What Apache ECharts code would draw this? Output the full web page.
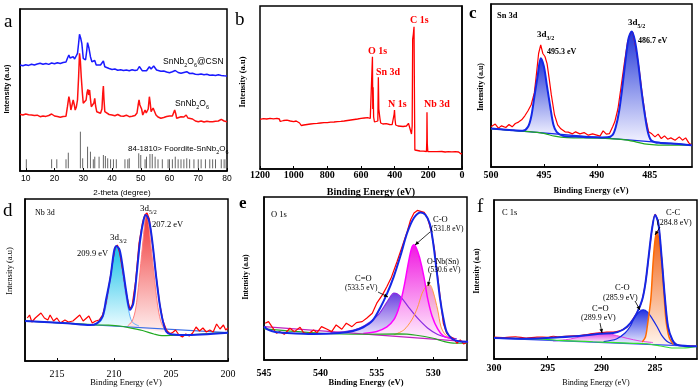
<!DOCTYPE html>
<html><head><meta charset="utf-8">
<script src="https://cdn.jsdelivr.net/npm/echarts@6/dist/echarts.min.js"></script>
<style>html,body{margin:0;padding:0;background:#fff}#c{width:700px;height:392px}</style>
</head><body><div id="c"></div>
<script>
// ---------------- DATA ----------------
// (a) XRD, 2-theta (deg) vs intensity (a.u.)
const xrdComposite = [[8,106],[9,105.3],[10,106.2],[11,105.6],[12,106.8],[13,106],[14,107],[15,107.8],[16,106.8],[17,107.5],[18,106.6],[19,108],[20,107.2],[21,108.3],[22,107.5],[23,108.5],[24,109],[24.5,112.7],[25,116],[25.4,113],[25.8,111],[26.5,114.3],[27,112],[27.5,111],[28,117.7],[28.4,128],[28.7,136.7],[29.1,133],[29.5,127.7],[30,112.7],[30.5,111.5],[30.8,111],[31.2,120],[31.5,128.3],[32,122.7],[32.5,114.3],[33,109.3],[33.5,108],[34,110.5],[34.5,106],[35,104.3],[36,106],[36.6,107],[37,110],[37.5,104.3],[38,103.5],[39,102.5],[40,101.5],[41,102],[42,100.8],[43,101.3],[44,100.5],[45,101],[46,100.3],[47,101.2],[48,100.5],[48.8,101],[49.5,104.5],[50,102.5],[50.5,100.3],[51,101],[52,100.3],[52.6,101.5],[53,104.3],[53.6,102],[54,103],[54.5,105],[55,103],[55.5,101],[56,100.3],[57,99.8],[58,100],[59,99],[60,98.3],[61,99.3],[62,100.5],[63,98.5],[64,97.7],[65,98.5],[66,99.3],[67,97.5],[68,97.8],[69,96.8],[70,96.5],[71,97],[72,96.3],[73,96.8],[74,95.8],[75,96],[76,95.5],[77,96.2],[78,95.6],[79,95.2],[80,95]];
const xrdSnNb2O6 = [[8,56.7],[9,56],[10,57],[11,56.3],[12,56],[13,55.5],[14,55.8],[15,54.3],[16,55],[17,54.6],[18,55.5],[19,57],[20,55],[21,54.5],[22,53.7],[23,54.5],[24,54.8],[24.5,64.3],[25,74.3],[25.3,70],[25.7,61],[26.1,63],[26.5,71],[26.9,66],[27.2,61],[27.6,64],[28,71],[28.4,95],[28.7,117.7],[29,110],[29.3,94.3],[29.7,78],[30,67.7],[30.5,66],[31,71],[31.3,78],[31.6,81.7],[31.9,76],[32.2,81],[32.5,72],[32.8,64.3],[33.1,63],[33.4,64.3],[33.7,68],[34,72.7],[34.3,65],[34.7,59.3],[35.3,58],[36,57.7],[36.5,62],[36.8,78],[37,85],[37.2,72],[37.5,59.3],[38,57.5],[39,56.5],[40,56],[41,55.3],[42,56.5],[43,55],[44,54.8],[45,55.8],[46,54.3],[47,54.8],[48,55.5],[48.7,58],[49.1,66],[49.4,71],[49.7,66],[50,67.7],[50.3,62],[50.7,56],[51.1,58],[51.5,61],[51.9,58],[52.2,56],[52.6,62],[53,74.3],[53.3,68],[53.6,59.3],[54,60],[54.3,63],[54.6,65],[54.9,61],[55.3,56],[56,54],[57,52.7],[58,53.5],[59,54.5],[60,55],[60.5,56],[61,55],[61.4,58],[61.8,61],[62.2,57],[62.5,52.7],[63,53.5],[64,54.3],[65,54],[65.8,56],[66.4,53],[67,51],[68,52],[69,50],[70,49.3],[71,50],[72,49],[73,49.8],[74,49.2],[75,49.3],[76,49.8],[77,50],[78,51.7],[78.5,51],[79,50],[80,49.3]];
const refBase = 2.7;
const refSticks = [[10.2,11.7],[19,11.7],[20.8,11.7],[24,11.7],[24.8,18.3],[29,39.3],[29.8,12.7],[31.5,24.3],[32.5,19.3],[33.5,11.7],[34,14.3],[35.5,14.3],[37,16],[37.7,15],[38.5,12.7],[39.5,11.7],[40.5,11.7],[41.5,11.7],[44.5,11.7],[45.5,11.7],[46,12.7],[49.3,17.7],[50,16],[51.5,11.7],[52,14.3],[53.2,17],[54,17],[55,14.3],[56,11.7],[57.5,11.7],[59.5,11.7],[60,11.7],[61,11.7],[62,14.3],[63,11.7],[64,11.7],[65,11.7],[66,12.7],[67,11.7],[68.5,11.7],[70,11.7],[71,11.7],[72.5,11.7],[74,11.7],[75,11.7],[76,11.7],[78,11.7],[79,11.7],[79.7,11.7]];
const ticksA = [10,20,30,40,50,60,70,80];

// (b) XPS survey
const survey = [[1200,49.7],[1180,50.3],[1160,50],[1140,50.6],[1120,50.2],[1100,50.7],[1085,50],[1080,47.5],[1075,49.5],[1060,48.5],[1040,48.8],[1020,48],[1000,47.3],[985,48],[975,49.5],[965,46],[955,43.5],[940,44],[920,44.5],[900,45],[880,45.3],[860,45.6],[840,46],[820,46.3],[800,46.3],[780,46.8],[760,47],[740,47.3],[720,47.6],[700,48],[680,48.5],[660,49],[640,49.5],[620,50],[600,50.7],[580,51],[560,51.3],[545,50.5],[535,51],[532,112.3],[530,60],[528,81.7],[525,52],[520,47],[510,46.3],[500,48],[497,91.7],[494,60],[490,54],[487,50],[483,46],[470,45],[450,45.3],[430,44.5],[415,44.3],[405,45],[403,55],[401,59],[398,50],[394,44],[380,43],[370,42.3],[350,42.5],[330,43],[318,45.7],[308,44],[300,35],[296,43],[293,130],[289,135],[285,142.3],[282,60],[280,19],[270,18.3],[250,18],[230,17.8],[211,17.5],[209,30],[208,56.7],[206,25],[203,17.3],[180,17.3],[150,17.3],[120,17.5],[100,17],[80,17.3],[60,17.2],[40,17.3],[20,17],[10,16],[5,15],[0,15.5]];
const ticksB = [0,200,400,600,800,1000,1200];

// (c) Sn 3d
const snRaw = [[500,40],[499.6,42.7],[499.3,38.7],[499,41],[498.6,39.3],[498.3,42.3],[498,40],[497.7,43.3],[497.4,44.7],[497.1,47],[496.8,51],[496.5,56],[496.2,62],[495.9,74],[495.7,93],[495.5,113],[495.3,121.7],[495.1,113],[494.9,110],[494.7,103],[494.5,88],[494.3,72],[494,52],[493.7,42],[493.4,38],[493,35],[492.7,34.7],[492.3,33],[492,35],[491.6,33],[491.2,34.3],[490.8,31.7],[490.4,33],[490,31.7],[489.7,30.7],[489.4,36],[489.1,32.7],[488.8,33.3],[488.5,40],[488.3,45],[488,58],[487.7,80],[487.4,103],[487.1,124],[486.8,134],[486.6,134],[486.3,118],[486,98],[485.7,72],[485.4,50],[485.1,35],[484.8,33],[484.5,30],[484.2,32.7],[483.9,28.3],[483.6,31],[483.3,27.7],[483,29],[482.6,26.7],[482.2,30],[481.9,26.7],[481.6,29],[481.3,24],[481,21.7]];
const snFit = [[500,38.3],[498,36.6],[497,36],[496.5,40],[496.2,50],[495.9,70],[495.6,90],[495.3,108.3],[495,100],[494.7,80],[494.4,60],[494.1,42],[493.8,35],[493.2,31],[492,30.3],[491,29.7],[490.3,29.5],[489.5,29.4],[489,29.5],[488.5,32],[488.2,40],[487.9,55],[487.6,78],[487.3,105],[487,128],[486.7,135],[486.4,126],[486.1,105],[485.8,78],[485.5,55],[485.2,36],[484.9,27],[484.5,24.7],[484,24],[483,23.3],[482,22.7],[481,21.7]];
const snPeak32 = [[497,36],[496.5,40],[496.2,50],[495.9,70],[495.6,90],[495.3,108.3],[495,100],[494.7,80],[494.4,60],[494.1,42],[493.8,35],[493.2,31]];
const snPeak52 = [[488.8,29.5],[488.5,32],[488.2,40],[487.9,55],[487.6,78],[487.3,105],[487,128],[486.7,135],[486.4,126],[486.1,105],[485.8,78],[485.5,55],[485.2,36],[484.9,27],[484.5,24.7]];
const snShirley = [[500,38.3],[495.6,34.5],[494.9,33.2],[494,30.7],[492.8,29.3],[490,28.7],[487.5,27.3],[486.4,25.3],[485.5,23],[484.5,22],[483,21.7],[481,21.7]];
const snLinear = [[500,38.3],[481,21.7]];
const ticksC = [500,495,490,485];

// (d) Nb 3d
const nbRaw = [[217.6,43],[217.4,46],[217.2,39],[216.9,43],[216.7,45],[216.4,48],[216.1,43],[215.8,41],[215.6,46],[215.3,40],[215,43],[214.7,38],[214.3,41],[214,39],[213.6,40],[213.3,43],[213,46],[212.7,40],[212.4,43],[212.2,45],[211.9,38],[211.6,40],[211.3,41],[211,46],[210.7,58],[210.4,78],[210.1,100],[209.9,113],[209.7,116],[209.5,108],[209.2,88],[208.9,66],[208.6,52],[208.4,56],[208.1,80],[207.8,118],[207.5,138],[207.3,146],[207.1,148],[206.9,142],[206.6,115],[206.3,85],[206,58],[205.7,40],[205.4,31],[205.1,27],[204.8,29],[204.6,31],[204.3,26],[204,24],[203.7,27],[203.4,25],[203.1,28],[202.8,34],[202.5,30],[202.2,33],[201.9,29],[201.6,31],[201.3,29],[201,37],[200.7,32],[200.4,36],[200.2,31],[200,33]];
const nbFit = [[217.8,40],[214.1,37.7],[212.1,36],[211.5,37.7],[211,44.3],[210.7,61],[210.3,84.3],[210,109.3],[209.8,115],[209.5,111],[209.2,91],[208.9,67.7],[208.6,51],[208.3,57.7],[208,87.7],[207.7,121],[207.4,141],[207.2,146],[206.9,139.3],[206.6,116],[206.3,84.3],[206,57.7],[205.7,39.3],[205.4,29.3],[205,26.7],[203.9,26],[200,28.3]];
const nbPeak32 = [[211.8,36.5],[211.2,39],[210.8,50],[210.5,68],[210.2,92],[210,109],[209.8,115],[209.5,109],[209.3,92],[209,68],[208.7,50],[208.4,39],[207.8,35]];
const nbPeak52 = [[208.8,35],[208.4,40],[208.1,52],[207.8,80],[207.5,115],[207.3,138],[207.2,146],[207,140],[206.8,120],[206.5,88],[206.2,58],[205.9,40],[205.5,31],[205,28]];
const nbShirley = [[217.8,40],[211.5,36.2],[210.5,35.8],[209.5,35],[208.8,33.7],[207.5,30.5],[206.5,27],[205.8,25.3],[205,25.5],[203,26.5],[201,27.8],[200,28.3]];
const nbLinear = [[217.8,40],[200,28.3]];
const ticksD = [215,210,205,200];

// (e) O 1s
const oRaw = [[544.9,36.7],[544.6,38.3],[544.3,33.3],[543.9,26.7],[543.6,28.3],[543.2,25.7],[542.7,31.7],[542.3,28.3],[541.8,32.7],[541.5,27.3],[541.1,26],[540.6,30],[540.3,27.3],[539.9,33.3],[539.4,30.7],[539,28.3],[538.6,35],[538.1,30.7],[537.7,36.7],[537.2,33.3],[536.8,37.3],[536.3,38.3],[535.9,41.7],[535.4,46.7],[535,56.7],[534.5,65],[534.1,73.3],[533.7,82.7],[533.2,98.3],[532.8,111.7],[532.3,128.3],[532,140],[531.7,146.7],[531.4,149.3],[531.1,148.3],[530.8,147.3],[530.5,141.7],[530.2,130],[529.9,111.7],[529.6,83.3],[529.3,55],[529.1,36.7],[528.8,26.7],[528.5,23.3],[528.2,21.7],[527.9,16.7],[527.6,20],[527.3,16],[526.9,18.3]];
const oFit = [[545,33.5],[544.6,30],[544,28],[543,27],[540.6,26],[538.3,27],[537.1,29],[536.2,32.7],[535.4,39],[534.7,52],[534.1,66],[533.5,83],[532.9,104],[532.3,127],[531.7,142],[531.1,147.3],[530.7,145],[530.3,136],[530,117],[529.7,90],[529.4,62],[529.1,42],[528.8,28],[528.3,21],[527.6,18.5],[526.9,18.3]];
const oPeakCdO = [[539.1,27],[537.7,28.5],[536.5,32],[535.6,38],[534.8,46],[534.2,56],[533.8,63],[533.5,66.7],[533.2,66],[532.8,62],[532.2,53],[531.4,42],[530.5,32],[529.6,25.5],[528.8,22.5],[527.9,21]];
const oPeakCO = [[536.2,26.5],[535,28.5],[534.1,33],[533.5,40],[533.1,50],[532.8,62],[532.5,78],[532.2,97],[531.9,112],[531.7,115],[531.5,112],[531.2,102],[530.8,82],[530.5,62],[530.1,44],[529.6,31],[529.1,24],[528.3,21]];
const oPeakONb = [[533.5,25],[532.6,30],[531.9,40],[531.4,52],[531,66],[530.6,74],[530.3,75],[530,68],[529.6,50],[529.3,33],[528.9,25],[528.3,21]];
const oShirley = [[545,31],[540,26.7],[536,25.7],[533,26],[531.5,24.7],[530,21.7],[529,18.3],[528,16.7],[527,16.7]];
const oLinear = [[545,33.3],[527,18.3]];
const ticksE = [545,540,535,530];

// (f) C 1s
const cRaw = [[300,22],[299,21.5],[298,22.3],[297,21],[296,22],[295,21.7],[294.5,22.8],[294,22.3],[293,23],[292,23.5],[291.4,24.5],[290.8,25.5],[290.1,26.3],[289.5,27],[288.9,27],[288.4,28],[288,29.6],[287.6,32],[287.3,36],[287,41],[286.7,46.3],[286.4,53],[286.2,59.5],[285.9,76],[285.6,102],[285.3,129],[285,145],[284.7,136],[284.4,102],[284.1,62],[283.8,32],[283.4,19.3],[283,14.5],[282.5,13.5],[282,13],[281.5,12.8],[281.1,12.7]];
const cFit = [[300,21],[297,20.3],[293.9,21.7],[291.4,23.7],[290.1,25.3],[288.9,26],[288,29.3],[287.3,36],[286.7,46],[286.2,59.3],[285.9,76],[285.6,102.7],[285.3,129.3],[285,144.3],[284.7,136],[284.4,102.7],[284.1,62.7],[283.8,32.7],[283.4,19.3],[283,14.3],[281.1,12.7]];
const cPeakCC = [[286.2,17],[285.9,22],[285.7,35],[285.4,60],[285.2,95],[285,120],[284.8,127.7],[284.7,122],[284.4,100],[284.2,70],[284,40],[283.7,22],[283.3,14.5]];
const cPeakCO = [[289.8,17.5],[288.6,20],[287.8,26],[287.3,33],[286.9,42],[286.4,48],[286.1,49.3],[285.7,47],[285.3,41],[284.8,32],[284.4,24],[283.8,17],[283,14]];
const cPeakCdO = [[294.5,18],[292.9,20],[291.7,23],[290.8,25.3],[290.1,26],[289.5,25.7],[288.6,23.5],[287.6,20.7],[286.4,18],[285.2,16.5]];
const cShirley = [[300,21],[295.4,20],[293.9,18.7],[290.8,17.3],[289.2,16.7],[287,15.7],[285.8,15.3],[284.5,13],[283.3,11],[282.4,11],[281.1,12.7]];
const cLinear = [[300,21],[281.1,12.7]];
const ticksF = [300,295,290,285];

// ---------------- LAYOUT ----------------
const SERIF = '"Liberation Serif","Times New Roman",serif';
const SANS = '"Liberation Sans",Arial,sans-serif';
const grids = [
  {left:20, top:9, width:207, height:162},
  {left:260, top:6, width:202, height:163},
  {left:491, top:4, width:201, height:163},
  {left:25, top:199, width:203, height:162},
  {left:264, top:197, width:203, height:163},
  {left:494, top:200, width:203, height:159}
].map(g => Object.assign({show:true, borderColor:'#000', borderWidth:1.5, backgroundColor:'#fff'}, g));

function xAx(i, min, max, inverse, ticks, lab, margin){
  return {type:'value', gridIndex:i, min, max, inverse,
    axisLine:{show:true, onZero:false, lineStyle:{color:'#000', width:1.5}},
    axisTick:{show:true, inside:true, length:3, customValues:ticks, lineStyle:{color:'#000'}},
    axisLabel:Object.assign({customValues:ticks, margin, color:'#000', hideOverlap:false, formatter:v => String(v)}, lab),
    splitLine:{show:false}};
}
function yAx(i, max){
  return {type:'value', gridIndex:i, min:0, max,
    axisLine:{show:true, lineStyle:{color:'#000', width:1.5}}, axisTick:{show:false},
    axisLabel:{show:false}, splitLine:{show:false}};
}
const labSans = {fontFamily:SANS, fontSize:8.5};
const labSerifB = {fontFamily:SERIF, fontSize:10, fontWeight:'bold'};
const labSerif = {fontFamily:SERIF, fontSize:10};
const xAxis = [
  xAx(0, 8, 80, false, ticksA, labSans, 3),
  xAx(1, 0, 1200, true, ticksB, labSerifB, 1),
  xAx(2, 481, 500, true, ticksC, labSerifB, 3),
  xAx(3, 200, 217.8, true, ticksD, labSerif, 8),
  xAx(4, 527, 545, true, ticksE, labSerifB, 8),
  xAx(5, 281.1, 300, true, ticksF, labSerifB, 4)
];
const yAxis = [yAx(0,162), yAx(1,163), yAx(2,162.3), yAx(3,162), yAx(4,162.7), yAx(5,159.3)];

function line(g, data, color, width, z, smooth){
  return {type:'line', xAxisIndex:g, yAxisIndex:g, data, symbol:'none', showSymbol:false, silent:true,
    smooth: smooth||false, lineStyle:{color, width}, z, animation:false};
}
function fill(g, pts, c1, c2){
  return {type:'custom', xAxisIndex:g, yAxisIndex:g, data:[pts[Math.floor(pts.length/2)]], silent:true, z:1,
    encode:{x:0,y:1}, animation:false,
    renderItem:(params, api) => ({type:'polygon', shape:{points: pts.map(p => api.coord(p)), smooth:0.2},
      style:{fill:new echarts.graphic.LinearGradient(0,0,0,1,[{offset:0,color:c1},{offset:1,color:c2}]), stroke:null}})};
}
const sticks = {type:'custom', xAxisIndex:0, yAxisIndex:0, data:refSticks, encode:{x:0,y:1}, silent:true, z:2, animation:false,
  renderItem:(params, api) => { const p1 = api.coord([api.value(0), refBase]); const p2 = api.coord([api.value(0), api.value(1)]);
    return {type:'line', shape:{x1:p1[0], y1:p1[1], x2:p2[0], y2:p2[1]}, style:{stroke:'#666', lineWidth:1}}; }};

const BLUE = '#1428e6';
const series = [
  // a
  line(0, xrdComposite, '#1a1aff', 1.5, 3), line(0, xrdSnNb2O6, '#ff1010', 1.5, 3), sticks,
  // b
  line(1, survey, '#ff0000', 1.3, 3),
  // c
  fill(2, snPeak32, '#2236d8', '#f2f2ff'), fill(2, snPeak52, '#2236d8', '#f2f2ff'),
  line(2, snLinear, BLUE, 1.3, 3), line(2, snShirley, '#22aa22', 1.2, 3, 0.3),
  line(2, snRaw, '#ff0000', 1.2, 4), line(2, snFit, BLUE, 2, 5, 0.3),
  // d
  fill(3, nbPeak32, '#18c0e8', '#e8fbff'), fill(3, nbPeak52, '#f03838', '#fff0f0'),
  line(3, nbPeak32, '#60b0ff', 1, 2, 0.3), line(3, nbPeak52, '#ff8080', 1, 2, 0.3),
  line(3, nbLinear, '#3a6ee8', 1.2, 3), line(3, nbShirley, '#22aa22', 1.2, 3, 0.3),
  line(3, nbRaw, '#ff0000', 1.2, 4), line(3, nbFit, BLUE, 2, 5, 0.3),
  // e
  fill(4, oPeakCdO, '#6a3ee0', '#f6f2ff'), fill(4, oPeakONb, '#f08cc8', '#fff4fa'), fill(4, oPeakCO, '#f018e0', '#fff0fd'),
  line(4, oPeakCdO, '#8a2be2', 1.2, 2, 0.3), line(4, oPeakONb, '#ff9a40', 1, 2, 0.3), line(4, oPeakCO, '#ff00ff', 1.5, 2, 0.3),
  line(4, oLinear, '#c020c0', 1.2, 3), line(4, oShirley, '#22aa22', 1.2, 3, 0.3),
  line(4, oRaw, '#ff0000', 1.2, 4), line(4, oFit, BLUE, 2, 5, 0.3),
  // f
  fill(5, cPeakCdO, '#e040e0', '#fdf0fd'), fill(5, cPeakCO, '#2030e0', '#f0f0ff'), fill(5, cPeakCC, '#f06010', '#fff3ea'),
  line(5, cPeakCdO, '#e040e0', 1, 2, 0.3), line(5, cPeakCO, BLUE, 1.2, 2, 0.3), line(5, cPeakCC, '#ff6a00', 1.5, 2, 0.3),
  line(5, cLinear, '#3a4ef0', 1.2, 3), line(5, cShirley, '#30e030', 1.2, 3, 0.3),
  line(5, cRaw, '#ff0000', 1.2, 4, 0.3), line(5, cFit, BLUE, 2, 5, 0.3)
];

// ---------------- TEXT ----------------
function T(x, y, text, size, o){
  o = o || {};
  const st = {text, fontSize:size, fontFamily:o.family||SERIF, fontWeight:o.bold?'bold':'normal',
    fill:o.color||'#000', align:o.align||'left', verticalAlign:'middle', lineHeight:size+4};
  if (o.rich) st.rich = o.rich;
  return {type:'text', x, y, rotation:o.rot||0, silent:true, z:100, style:st};
}
function sub(size, family, bold){
  return {s:{fontSize:size, fontFamily:family, fontWeight:bold?'bold':'normal', verticalAlign:'bottom', lineHeight:size+2}};
}
function arrow(x1, y1, x2, y2){
  const a = Math.atan2(y2-y1, x2-x1), L = 4, W = 1.8;
  const p1 = [x2 - L*Math.cos(a) + W*Math.sin(a), y2 - L*Math.sin(a) - W*Math.cos(a)];
  const p2 = [x2 - L*Math.cos(a) - W*Math.sin(a), y2 - L*Math.sin(a) + W*Math.cos(a)];
  return [{type:'line', z:100, silent:true, shape:{x1, y1, x2, y2}, style:{stroke:'#000', lineWidth:0.8}},
          {type:'polygon', z:100, silent:true, shape:{points:[[x2,y2],p1,p2]}, style:{fill:'#000'}}];
}
const R = Math.PI/2;
const graphic = [
  // panel letters
  T(4, 22, 'a', 19), T(235, 20, 'b', 19), T(469, 14, 'c', 17, {bold:true}),
  T(3, 211, 'd', 19), T(239, 204, 'e', 17, {bold:true}), T(477, 207, 'f', 19),
  // axis names
  T(122, 193, '2-theta (degree)', 8, {family:SANS, align:'center'}),
  T(371, 192, 'Binding Energy (eV)', 10, {bold:true, align:'center'}),
  T(591, 191, 'Binding Energy (eV)', 8.5, {bold:true, align:'center'}),
  T(126, 383, 'Binding Energy (eV)', 8.5, {align:'center'}),
  T(366, 383, 'Binding Energy (eV)', 8.5, {bold:true, align:'center'}),
  T(596, 383, 'Binding Energy (eV)', 8, {align:'center'}),
  T(7, 89, 'Intensity (a.u)', 7.5, {family:SANS, bold:true, align:'center', rot:R}),
  T(243, 82, 'Intensity (a.u)', 8.5, {bold:true, align:'center', rot:R}),
  T(481, 87, 'Intensity (a.u)', 8, {bold:true, align:'center', rot:R}),
  T(10, 271, 'Intensity (a.u)', 8.5, {align:'center', rot:R}),
  T(246, 277, 'Intensity (a.u)', 7.5, {bold:true, align:'center', rot:R}),
  T(477, 271, 'Intensity (a.u)', 7.5, {bold:true, align:'center', rot:R}),
  // panel a
  T(163, 62, 'SnNb{s|2}O{s|6}@CSN', 8.5, {family:SANS, rich:sub(5.5, SANS)}),
  T(175, 104, 'SnNb{s|2}O{s|6}', 8.5, {family:SANS, rich:sub(5.5, SANS)}),
  T(128, 149, '84-1810> Foordite-SnNb{s|2}O{s|6}', 8, {family:SANS, rich:sub(5.5, SANS)}),
  // panel b
  T(368, 51, 'O 1s', 10, {bold:true, color:'#ff0000'}),
  T(376, 72, 'Sn 3d', 10, {bold:true, color:'#ff0000'}),
  T(388, 104, 'N 1s', 10, {bold:true, color:'#ff0000'}),
  T(410, 20, 'C 1s', 10, {bold:true, color:'#ff0000'}),
  T(424, 104, 'Nb 3d', 10, {bold:true, color:'#ff0000'}),
  // panel c
  T(497, 16, 'Sn 3d', 8.5, {bold:true}),
  T(537, 35, '3d{s|3/2}', 9, {bold:true, rich:sub(6, SERIF, true)}),
  T(547, 52, '495.3 eV', 8, {bold:true}),
  T(628, 23, '3d{s|5/2}', 9, {bold:true, rich:sub(6, SERIF, true)}),
  T(638, 41, '486.7 eV', 8, {bold:true}),
  // panel d
  T(35, 213, 'Nb 3d', 8),
  T(110, 238, '3d{s|3/2}', 9, {rich:sub(6, SERIF)}),
  T(77, 254, '209.9 eV', 8.5),
  T(140, 209, '3d{s|5/2}', 9, {rich:sub(6, SERIF)}),
  T(152, 225, '207.2 eV', 8.5),
  // panel e
  T(271, 215, 'O 1s', 8.5),
  T(433, 220, 'C-O', 8.5), T(431, 229, '(531.8 eV)', 7.5),
  T(427, 262, 'O-Nb(Sn)', 8), T(428, 270, '(530.6 eV)', 7.5),
  T(355, 279, 'C=O', 8.5), T(345, 288, '(533.5 eV)', 7.5),
  ...arrow(430, 232, 415, 245), ...arrow(431, 273, 428, 286), ...arrow(378, 292, 388, 297),
  // panel f
  T(502, 213, 'C 1s', 8.5),
  T(666, 213, 'C-C', 8.5), T(657, 223, '(284.8 eV)', 8),
  T(615, 288, 'C-O', 8.5), T(603, 298, '(285.9 eV)', 8),
  T(592, 309, 'C=O', 8.5), T(581, 318, '(289.9 eV)', 8),
  ...arrow(660, 227, 655, 235), ...arrow(635, 301, 640, 310), ...arrow(600, 323, 602, 333)
];

const chart = echarts.init(document.getElementById('c'), null, {renderer:'canvas'});
chart.setOption({backgroundColor:'#fff', animation:false, grid:grids, xAxis, yAxis, series, graphic});
</script></body></html>
